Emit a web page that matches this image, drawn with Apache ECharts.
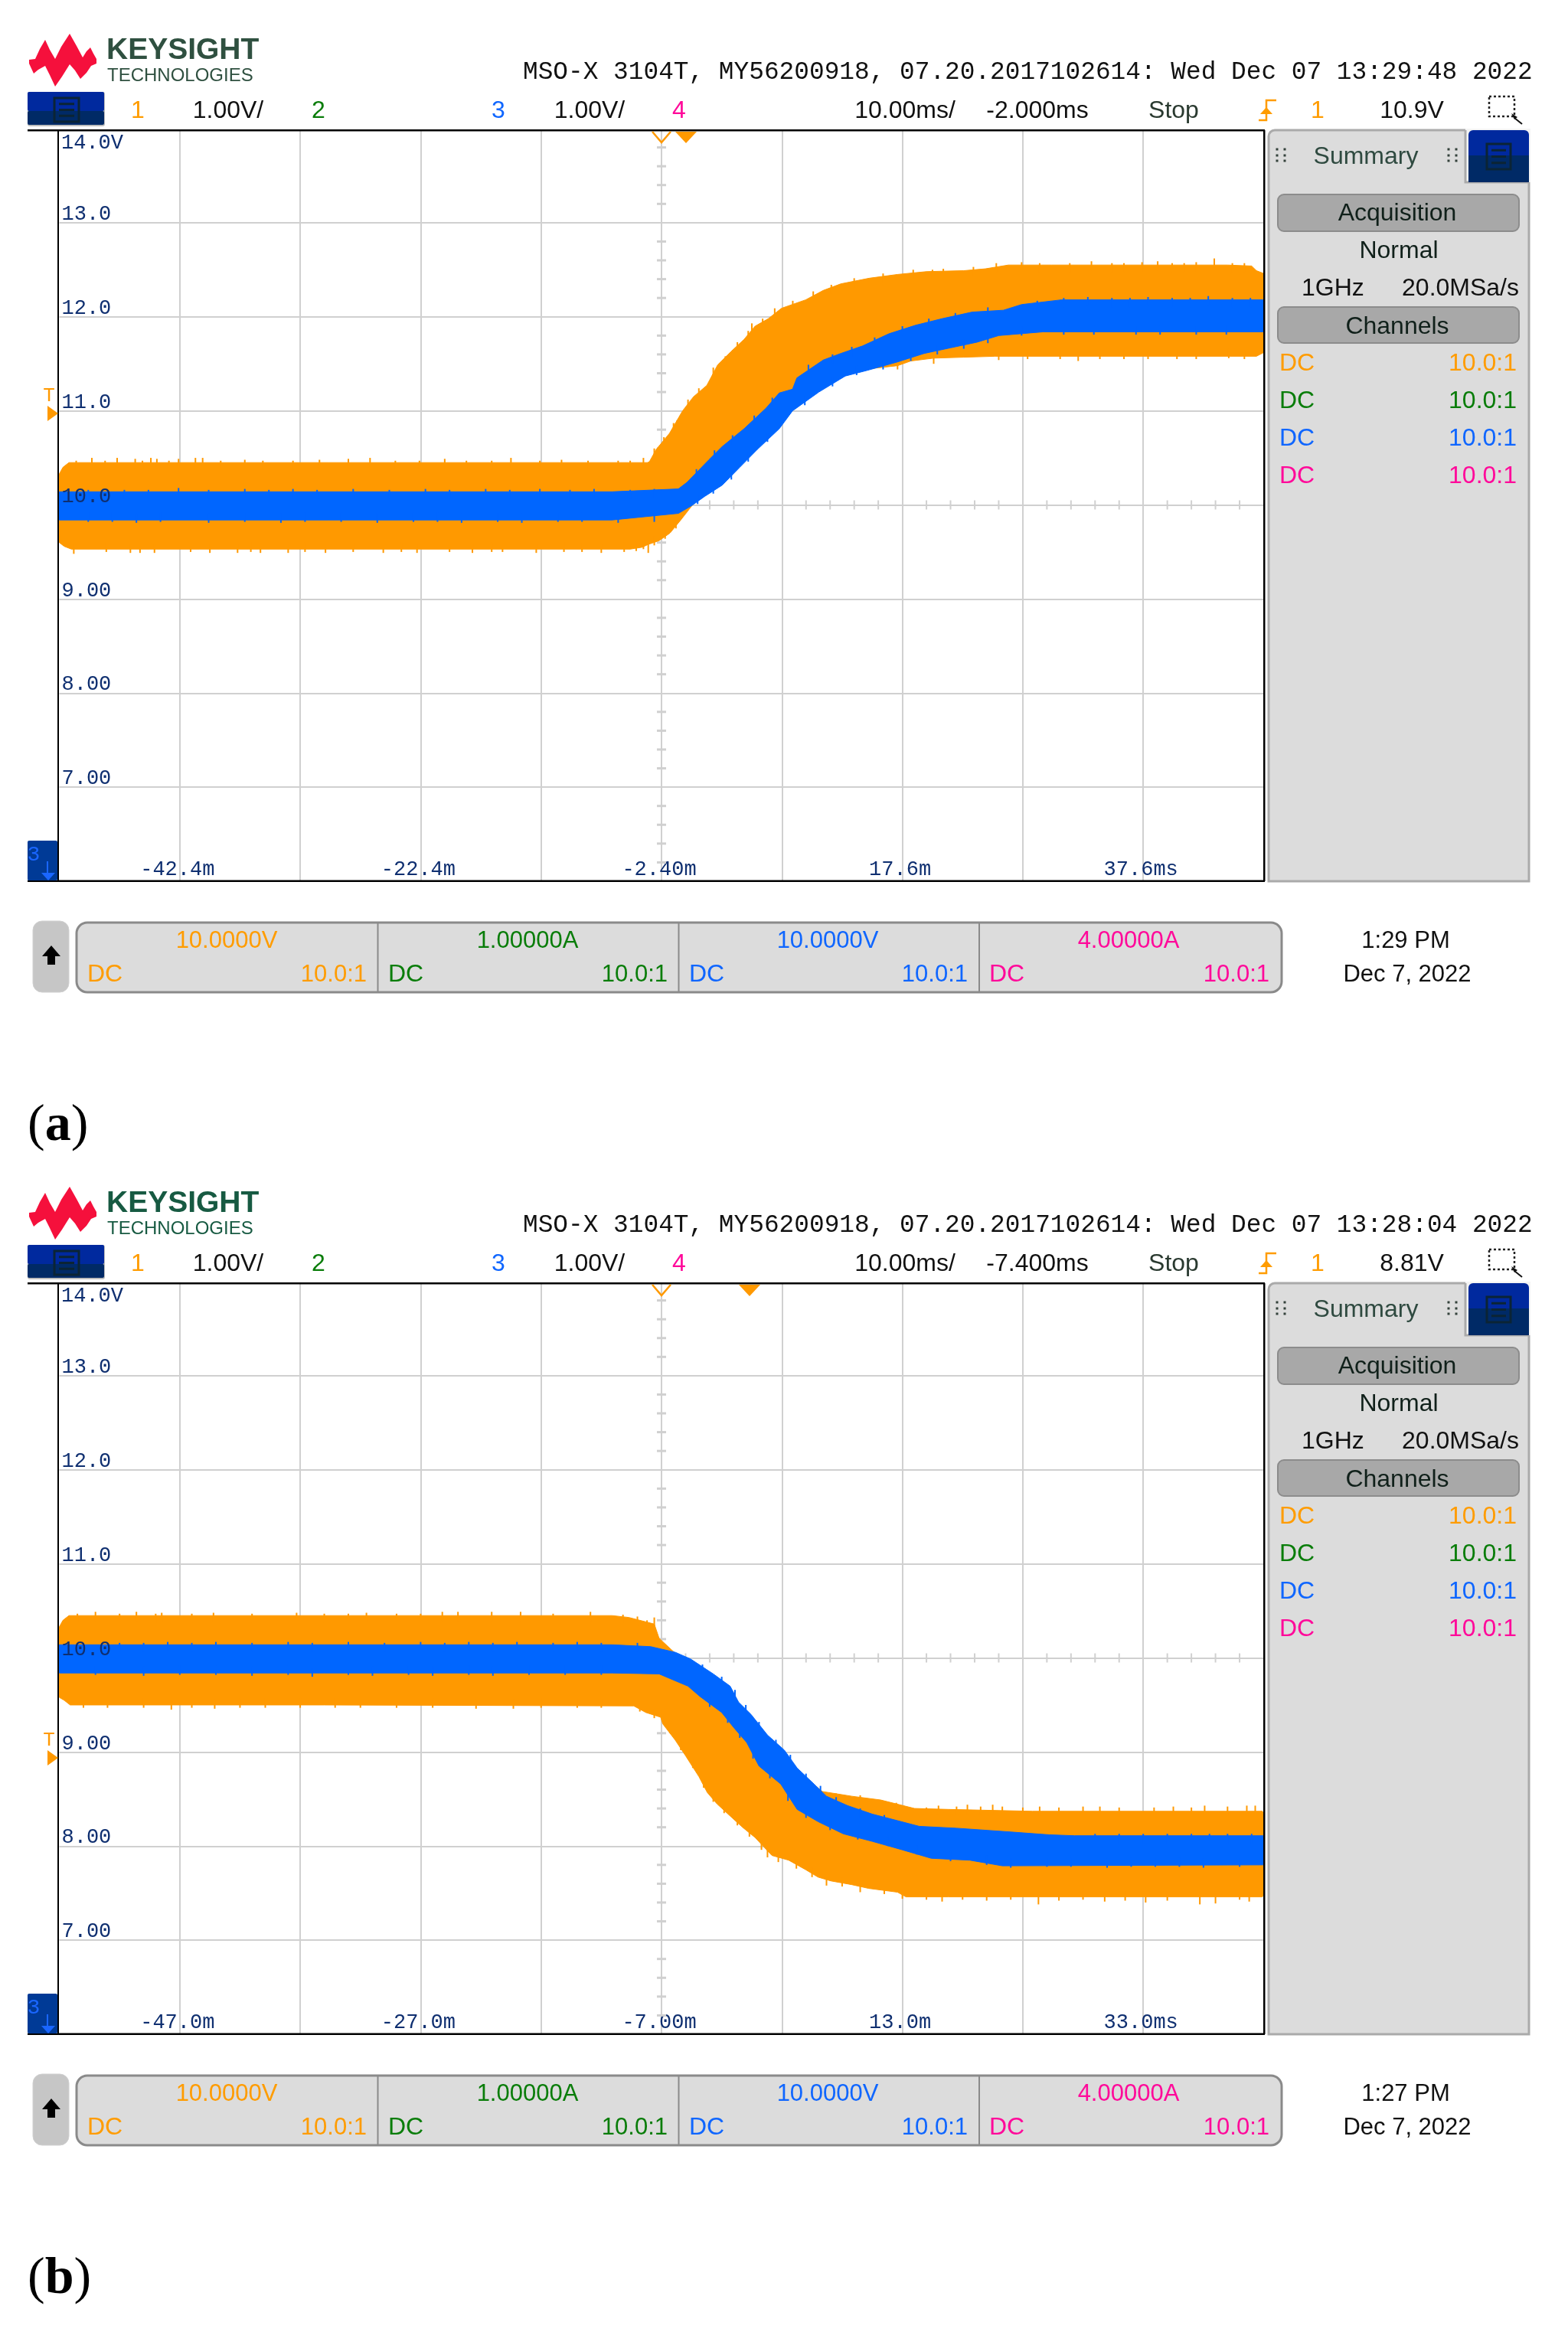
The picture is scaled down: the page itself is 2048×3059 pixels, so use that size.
<!DOCTYPE html>
<html><head><meta charset="utf-8"><style>html,body{margin:0;padding:0;background:#fff}#c{width:2048px;height:3059px}</style>
<script src="https://cdn.jsdelivr.net/npm/echarts@6/dist/echarts.min.js"></script></head>
<body><div id="c"></div><script>
// ---------- tick labels ----------
const yTickValues=[7,8,9,10,11,12,13];
const yTickLabels=['7.00','8.00','9.00','10.0','11.0','12.0','13.0'];
const aXRange=[-52.4,47.6], bXRange=[-57,43];
const aXGrid=[-42.4,-32.4,-22.4,-12.4,-2.4,7.6,17.6,27.6,37.6];
const bXGrid=[-47,-37,-27,-17,-7,3,13,23,33];
const aXTickValues=[-42.4,-22.4,-2.4,17.6,37.6];
const aXTickLabels=['-42.4m','-22.4m','-2.40m','17.6m','37.6ms'];
const bXTickValues=[-47,-27,-7,13,33];
const bXTickLabels=['-47.0m','-27.0m','-7.00m','13.0m','33.0ms'];
// ---------- panel (a): channel 1 (orange) and channel 3 (blue) envelopes, [ms, V] ----------
const aOrangeUpper=[[-52.4,10.33],[-52.1,10.4],[-51.6,10.45],[-30,10.45],[-3.57,10.45],[-3.4,10.46],[-2.84,10.59],[-1.74,10.76],[-0.65,11.0],[0.26,11.15],[1.36,11.27],[2.27,11.49],[3.37,11.63],[4.46,11.76],[5.37,11.9],[6.47,11.98],[7.56,12.09],[9.57,12.18],[11.03,12.28],[12.49,12.35],[14.86,12.41],[17.2,12.45],[19.6,12.48],[22.7,12.49],[24.5,12.51],[26.4,12.55],[30,12.55],[44.6,12.55],[46.6,12.54],[47,12.49],[47.6,12.46]];
const aOrangeLower=[[-52.4,9.6],[-52,9.56],[-51.4,9.53],[-30,9.53],[-5,9.53],[-4,9.55],[-3.5,9.58],[-2.6,9.62],[-1.7,9.7],[-0.8,9.84],[0.3,10.02],[2.6,10.3],[5.5,10.7],[8.5,11.1],[12.9,11.42],[17.2,11.48],[18.3,11.53],[20.2,11.56],[22.7,11.57],[25.3,11.58],[47,11.58],[47.6,11.62]];
const aBlueUpper=[[-52.4,10.14],[-30,10.14],[-6.5,10.14],[-1,10.17],[-0.28,10.24],[1.54,10.48],[2.64,10.62],[4.46,10.81],[6.29,11.03],[7.38,11.19],[8.48,11.23],[8.84,11.35],[11.03,11.54],[12.49,11.61],[14.3,11.69],[16.5,11.82],[18.7,11.91],[20.9,11.98],[23.4,12.05],[26,12.07],[27.5,12.13],[30.8,12.18],[47.6,12.18]];
const aBlueLower=[[-52.4,9.84],[-30,9.84],[-6.5,9.84],[-1,9.91],[0.08,9.99],[1.18,10.09],[2.64,10.21],[4.1,10.4],[5.56,10.59],[7.38,10.81],[8.48,11.0],[10.67,11.2],[12.86,11.37],[14.68,11.43],[17.2,11.52],[19.4,11.61],[21.6,11.67],[23.8,11.73],[25.6,11.8],[29.3,11.84],[47.6,11.84]];
const aOrangeSpikesUp=[[-51,10.47],[-49.7,10.5],[-48.6,10.47],[-47.6,10.5],[-46.1,10.49],[-45.5,10.47],[-44.8,10.5],[-44.3,10.49],[-43.3,10.47],[-42.5,10.49],[-41.1,10.5],[-40.5,10.5],[-39,10.47],[-37,10.48],[-35.5,10.47],[-33,10.47],[-30.8,10.48],[-28.4,10.49],[-26.6,10.5],[-24.5,10.47],[-22.5,10.47],[-20.4,10.49],[-18.6,10.47],[-16.5,10.47],[-14.9,10.5],[-12.5,10.47],[-10.7,10.48],[-8.5,10.47],[-6,10.47],[-5,10.47],[-3.9,10.5],
 [-3,10.6],[-2.2,10.72],[-1.4,10.87],[-1.1,10.9],[-0.2,11.12],[0.7,11.24],[1.9,11.46],[2.9,11.58],[3.9,11.73],[4.8,11.85],[5.1,11.93],[6,11.98],[7,12.09],[8.5,12.17],[10.2,12.27],[11.7,12.34],[13.6,12.41],[16,12.46],[18.5,12.5],[20.1,12.5],[21,12.51],[23.5,12.53],[25.4,12.57],[27.5,12.58],[29,12.57],[31.5,12.57],[33.3,12.59],[35,12.57],[36,12.57],[37.5,12.58],[38.8,12.59],[40,12.57],[41,12.57],[42,12.58],[43.5,12.62],[45,12.57],[46,12.57]];
const aOrangeSpikesDown=[[-51.2,9.48],[-48.5,9.5],[-46.5,9.49],[-45.7,9.49],[-44.5,9.49],[-41.5,9.5],[-39.9,9.49],[-37.6,9.49],[-36.5,9.5],[-35.7,9.49],[-33.4,9.49],[-32,9.5],[-30.3,9.49],[-28,9.5],[-25.5,9.49],[-24,9.5],[-22.7,9.49],[-20,9.5],[-18.1,9.49],[-16.5,9.5],[-15.6,9.5],[-12.8,9.49],[-10.5,9.5],[-9,9.5],[-7.4,9.49],[-5.5,9.5],[-4.5,9.51],[-3.9,9.53],[-3.5,9.49],[-3,9.57],[-2.1,9.64],[-1.2,9.75],
 [17.2,11.44],[20.2,11.5],[25.6,11.54],[28,11.55],[30.7,11.55],[32.2,11.53],[34,11.55],[36,11.55],[38,11.55],[40.4,11.55],[42,11.55],[44.7,11.56],[46,11.55]];
const aBlueSpikesUp=[[-50,10.16],[-47,10.16],[-45,10.16],[-42.5,10.18],[-40,10.16],[-37,10.17],[-35,10.16],[-33,10.17],[-31,10.16],[-28,10.17],[-25,10.16],[-22,10.17],[-20,10.16],[-17,10.17],[-15,10.16],[-12.5,10.17],[-10,10.16],[-8,10.17],[-5,10.16],[-3,10.17],
 [0.5,10.38],[2,10.58],[3.5,10.74],[5.3,10.95],[6.8,11.14],[9.8,11.49],[11.8,11.6],[13.4,11.68],[15.3,11.78],[17.6,11.9],[19.8,11.98],[22,12.04],[24.7,12.1],[28.8,12.17],[31,12.2],[33,12.21],[35,12.2],[36.5,12.2],[38,12.21],[40,12.2],[41.5,12.2],[43,12.22],[45,12.2],[46.5,12.2]];
const aBlueSpikesDown=[[-50,9.82],[-48,9.82],[-46,9.81],[-44,9.82],[-40,9.81],[-37,9.82],[-34,9.81],[-32,9.82],[-29,9.82],[-26,9.81],[-23,9.82],[-21,9.82],[-19,9.81],[-16,9.82],[-14,9.81],[-11,9.82],[-9,9.82],[-6,9.81],[-3,9.82],
 [0.6,10.01],[1.9,10.12],[3.4,10.27],[4.8,10.46],[6.4,10.67],[9.5,11.06],[11.8,11.26],[13.8,11.38],[16,11.44],[18.3,11.53],[20.5,11.6],[22.7,11.66],[24.7,11.72],[27.5,11.8],[31,11.81],[33.5,11.81],[37,11.81],[39,11.81],[42,11.81],[44.5,11.81]];
// ---------- panel (b) ----------
const bOrangeUpper=[[-57,10.33],[-56.7,10.4],[-56.2,10.45],[-35,10.45],[-11.1,10.45],[-9.7,10.43],[-7.6,10.36],[-7.2,10.21],[-6.2,10.09],[-5.85,10.05],[-3,9.75],[0,9.25],[3,8.95],[6.35,8.58],[8.8,8.53],[11.2,8.49],[14,8.4],[16.8,8.39],[23.8,8.37],[42.9,8.37],[43,8.33]];
const bOrangeLower=[[-57,9.58],[-56.6,9.55],[-56.1,9.5],[-35,9.5],[-9.3,9.49],[-8.3,9.42],[-7.07,9.37],[-6.9,9.3],[-5.85,9.125],[-5,8.96],[-3.9,8.74],[-3.2,8.57],[-2.4,8.45],[-1.3,8.32],[-0.27,8.2],[0.78,8.09],[2.17,7.9],[3.56,7.85],[4.96,7.75],[6,7.67],[7.05,7.63],[8.8,7.59],[10.2,7.55],[12.6,7.51],[13.3,7.46],[16.8,7.46],[42.9,7.46],[43,7.5]];
const bBlueUpper=[[-57,10.14],[-35,10.14],[-11.1,10.14],[-7.9,10.12],[-5.85,10.06],[-4.6,9.99],[-2.7,9.83],[-1.3,9.7],[-0.6,9.53],[0.43,9.4],[1.8,9.18],[3.2,9.02],[4.26,8.83],[5.66,8.66],[6.7,8.53],[8.45,8.43],[10.5,8.34],[12.6,8.27],[14.4,8.21],[17.5,8.19],[22,8.15],[25.2,8.12],[27.3,8.11],[43,8.11]];
const bBlueLower=[[-57,9.84],[-35,9.84],[-11.1,9.84],[-7.2,9.83],[-4.8,9.7],[-3.8,9.59],[-2,9.42],[-1,9.26],[0.08,9.1],[1.1,8.85],[2.9,8.66],[4.26,8.39],[6,8.26],[8.1,8.13],[10.5,8.05],[13,7.96],[15.4,7.87],[18.6,7.85],[21.3,7.79],[43,7.8]];
const bOrangeSpikesUp=[[-55.5,10.47],[-54,10.49],[-52,10.47],[-50.6,10.49],[-49,10.47],[-48.5,10.48],[-46,10.47],[-44.2,10.48],[-41,10.47],[-37.3,10.48],[-35,10.47],[-33,10.47],[-31.5,10.48],[-29,10.47],[-27,10.47],[-25.2,10.49],[-23.9,10.49],[-21.1,10.49],[-18.7,10.49],[-16,10.47],[-12.9,10.49],[-10.2,10.46],[-9,10.44],[-8.2,10.4],[-7.6,10.43],
 [7.5,8.56],[9.5,8.54],[12.5,8.46],[15,8.41],[16,8.43],[17.5,8.42],[18.4,8.44],[19.5,8.42],[20.5,8.44],[21.3,8.42],[23,8.41],[24.4,8.42],[26,8.41],[28,8.42],[29.4,8.42],[31,8.41],[33.9,8.41],[35.5,8.42],[37,8.41],[38.1,8.43],[40,8.42],[41.6,8.43],[42.3,8.43]];
const bOrangeSpikesDown=[[-55,9.47],[-53,9.47],[-50,9.47],[-47.7,9.45],[-46,9.47],[-44.1,9.46],[-42,9.47],[-39.9,9.47],[-37,9.47],[-34.1,9.47],[-32,9.47],[-29,9.47],[-26,9.47],[-22.4,9.46],[-19.3,9.46],[-17,9.47],[-14,9.47],[-12,9.47],
 [-8.8,9.43],[-7.6,9.36],[-6.3,9.2],[-5.4,9.02],[-4.4,8.83],[-3.5,8.62],[-2.7,8.47],[-1.8,8.35],[-0.7,8.22],[0.3,8.1],[1.3,7.96],[1.8,7.88],[2.7,7.83],[4.2,7.76],[5.5,7.67],[6.7,7.58],[8,7.57],[9.5,7.51],[11.5,7.49],[13,7.44],[15,7.43],[16.3,7.41],[18,7.43],[20,7.42],[22,7.43],[24.3,7.38],[26,7.42],[28,7.43],[29.8,7.41],[31.5,7.42],[33.2,7.4],[35,7.42],[37.7,7.38],[39,7.39],[41,7.43],[41.8,7.41]];
const bBlueSpikesUp=[[-55,10.16],[-52,10.16],[-50,10.16],[-48,10.17],[-46,10.16],[-44,10.17],[-41,10.16],[-38,10.17],[-36,10.16],[-33,10.17],[-30,10.16],[-27,10.17],[-25,10.16],[-23,10.17],[-21,10.16],[-19,10.17],[-16,10.16],[-14,10.17],[-12,10.16],[-9,10.16],
 [-3.6,9.93],[-2,9.8],[-0.9,9.66],[0,9.5],[1.1,9.32],[2.5,9.13],[3.7,8.97],[5,8.77],[6.2,8.64],[7.5,8.52],[9.5,8.4],[11.5,8.33],[29,8.13],[31,8.13],[33,8.13],[35,8.13],[37,8.13],[38.5,8.13],[40,8.13],[42,8.13]];
const bBlueSpikesDown=[[-54,9.82],[-50,9.81],[-47,9.82],[-44,9.82],[-41,9.81],[-38,9.82],[-36,9.8],[-33,9.82],[-31,9.81],[-28,9.82],[-26,9.81],[-23,9.82],[-21,9.81],[-18,9.82],[-15,9.82],[-12,9.82],
 [-3,9.48],[-1.5,9.31],[-0.5,9.15],[0.6,8.93],[2,8.72],[3.5,8.48],[5,8.3],[7,8.17],[9.3,8.07],[11.8,8.0],[14.2,7.91],[17,7.84],[20,7.8],[22,7.77],[25,7.78],[27,7.78],[30,7.77],[32,7.78],[34,7.78],[36,7.78],[38,7.77],[41,7.78]];
// ---------- screen texts ----------
const aTexts={stamp:'13:29:48',delay:'-2.000ms',trig:'10.9V',clock:'1:29 PM',tag:'a',trigY:540,marker:896};
const bTexts={stamp:'13:28:04',delay:'-7.400ms',trig:'8.81V',clock:'1:27 PM',tag:'b',trigY:2296-1506,marker:979};
const channelColors=['#ff9c00','#0a7d0a','#0f66ff','#ff0a9a'];
const channelOffsets=['10.0000V','1.00000A','10.0000V','4.00000A'];

const SANS='"Liberation Sans"',MONO='"Liberation Mono"',SERIF='"Liberation Serif"';
const ORANGE='#ff9900',BLUE='#0066ff',GRID='#d0d0d0',NAVY='#0f2f70';
const G=[];
function T(x,y,text,size,fill,align,fam,weight){G.push({type:'text',z:30,silent:true,x:x,y:y+2,style:{text:text,fill:fill,textAlign:align||'left',textVerticalAlign:'middle',font:(weight?weight+' ':'')+size+'px '+(fam||SANS)}});}
function R(x,y,w,h,fill,stroke,lw,r,z){G.push({type:'rect',z:z||20,silent:true,shape:{x:x,y:y,width:w,height:h,r:r||0},style:{fill:fill||'none',stroke:stroke||null,lineWidth:lw||0}});}
function L(pts,stroke,lw,dash,z){G.push({type:'polyline',z:z||30,silent:true,shape:{points:pts},style:{stroke:stroke,lineWidth:lw,fill:'none',lineDash:dash||null}});}
function P(pts,fill,stroke,lw,z){G.push({type:'polygon',z:z||30,silent:true,shape:{points:pts},style:{fill:fill,stroke:stroke||null,lineWidth:lw||0}});}
function menuIcon(x,y,w,h){R(x,y,w,h,'none','#0b2435',3,0,26);[.25,.5,.75].forEach(f=>R(x+6,y+h*f-1.5,w-12,3,'#0b2435',null,0,0,26));}

function chrome(d,t,greenLogo){
  // logo
  P([[38,78],[46,77],[52,64],[59,52],[65,65],[72,77],[80,61],[91,44],[100,60],[108,75],[113,67],[118,62],[122,70],[126,77],[126,83],[119,86],[113,95],[105,103],[98,92],[91,84],[81,100],[72,113],[65,98],[59,86],[50,91],[44,96],[38,83]].map(p=>[p[0],p[1]+d]),'#f5103c');
  const logo=greenLogo?'#175a42':'#2f5040';
  T(139,64+d,'KEYSIGHT',39,logo,'left',SANS,'bold');
  T(140,97+d,'TECHNOLOGIES',24,logo);
  // header
  T(683,92+d,'MSO-X 3104T, MY56200918, 07.20.2017102614: Wed Dec 07 '+t.stamp+' 2022',32.8,'#111','left',MONO);
  R(36,120+d,101,45,'#bdbdbd',null,0,3,24); R(36,120+d,100,25,'#00299e',null,0,2,25); R(36,145+d,100,18,'#002a66',null,0,2,25); menuIcon(71,128+d,32,31);
  T(180,143+d,'1',32,channelColors[0],'center'); T(298,143+d,'1.00V/',32,'#111','center');
  T(416,143+d,'2',32,channelColors[1],'center');
  T(651,143+d,'3',32,channelColors[2],'center'); T(770,143+d,'1.00V/',32,'#111','center');
  T(887,143+d,'4',32,channelColors[3],'center');
  T(1182,143+d,'10.00ms/',32,'#111','center'); T(1355,143+d,t.delay,32,'#111','center');
  T(1533,143+d,'Stop',32,'#2a3a30','center');
  L([[1644,157+d],[1654,157+d],[1654,131+d],[1667,131+d]],channelColors[0],2.5);
  P([[1654,140+d],[1662,149+d],[1646,149+d]],channelColors[0]);
  T(1721,143+d,'1',32,channelColors[0],'center'); T(1844,143+d,t.trig,32,'#111','center');
  R(1945,126+d,33,26,'none','#222',2.5,0,30); G[G.length-1].style.lineDash=[3,3];
  P([[1974,148+d],[1982,153+d],[1978,156+d]],'#111'); L([[1978,154+d],[1988,162+d]],'#111',2);
  // right panel
  R(1657,170+d,340,981,'#dcdcdc','#aaaaaa',3,[8,0,0,0],15);
  R(1914,168+d,85,70,'#f4f4f4',null,0,0,16); L([[1914,170+d],[1914,238+d],[1997,238+d]],'#aaaaaa',3,null,17);
  R(1918,170+d,79,34,'#00299e',null,0,[6,6,0,0],18); R(1918,203+d,79,35,'#002a66',null,0,0,18); menuIcon(1942,188+d,31,33);
  [1668,1678,1892,1902].forEach(x=>[195,203,210].forEach(y=>R(x-1.5,y-1.5+d,3,3,'#33413a',null,0,0,18)));
  T(1784,203+d,'Summary',32,'#2f4a40','center');
  R(1669,254+d,315,48,'#a8a8a8','#8c8c8c',2,8,18); T(1825,277+d,'Acquisition',32,'#10201a','center');
  T(1827,326+d,'Normal',32,'#10201a','center');
  T(1700,375+d,'1GHz',32,'#111','left'); T(1984,375+d,'20.0MSa/s',32,'#111','right');
  R(1669,401+d,315,47,'#a8a8a8','#8c8c8c',2,8,18); T(1825,425+d,'Channels',32,'#10201a','center');
  [473,522,571,620].forEach((y,i)=>{T(1671,y+d,'DC',32,channelColors[i]);T(1981,y+d,'10.0:1',32,channelColors[i],'right');});
  // plot frame, drawn over the grid lines
  R(36,160+d,1616,10,'#fff',null,0,0,19);
  R(36,169+d,1616,2.5,'#000',null,0,0,22); R(36,1149.5+d,1616,2.5,'#000',null,0,0,22);
  R(75,170+d,2,981,'#000',null,0,0,22); R(1650,170+d,2.5,981,'#000',null,0,0,22);
  // markers on the frame
  L([[852,172+d],[864,186+d],[876,172+d]],ORANGE,2.5);
  P([[t.marker-14,172+d],[t.marker+14,172+d],[t.marker,187+d]],ORANGE);
  T(64,515+d+(t.trigY-540),'T',26,ORANGE,'center',MONO);
  P([[62,t.trigY-10+d],[76,t.trigY+d],[62,t.trigY+10+d]],ORANGE);
  R(36,1098+d,39,52,'#003a96',null,0,2,23);
  T(44,1115+d,'3',28,'#1a66ff','center',MONO); L([[62,1125+d],[62,1143+d]],'#1a66ff',2);
  P([[54,1140+d],[72,1140+d],[63,1150+d]],'#1a66ff');
  T(80,185+d,'14.0V',27,NAVY,'left',MONO);
  // bottom strip
  R(43,1203+d,47,93,'#c6c6c6','#d0d0d0',1,12,18);
  P([[67,1235+d],[79,1249+d],[72,1249+d],[72,1260+d],[62,1260+d],[62,1249+d],[55,1249+d]],'#000');
  R(100,1205+d,1574,91,'#dcdcdc','#8a8a8a',3,14,18);
  [493.5,886.5,1279].forEach(x=>R(x-1,1205+d,2,91,'#8a8a8a',null,0,0,19));
  [296,689,1081,1474].forEach((x,i)=>T(x,1227+d,channelOffsets[i],31,channelColors[i],'center'));
  [114,507,900,1292].forEach((x,i)=>T(x,1271+d,'DC',32,channelColors[i]));
  [479,872,1264,1658].forEach((x,i)=>T(x,1271+d,'10.0:1',31,channelColors[i],'right'));
  T(1836,1227+d,t.clock,31,'#111','center'); T(1838,1271+d,'Dec 7, 2022',31,'#111','center');
  G.push({type:'text',z:30,silent:true,x:36,y:1471+d,style:{text:'{p|(}{b|'+t.tag+'}{p|)}',textVerticalAlign:'middle',rich:{p:{font:'68px '+SERIF,fill:'#000'},b:{font:'bold 68px '+SERIF,fill:'#000'}}}});
}
chrome(0,aTexts,false); chrome(1506,bTexts,true);

function band(name,upper,lower,color,g,z){
  const pts=upper.concat(lower.slice().reverse());
  return {type:'custom',name:name,xAxisIndex:g,yAxisIndex:g*2,z:z,clip:true,silent:true,animation:false,encode:{x:0,y:1},data:pts,
    renderItem:(p,api)=>{ if(p.dataIndex!==0) return null; return {type:'polygon',shape:{points:pts.map(q=>api.coord(q))},style:{fill:color,stroke:color,lineWidth:1}}; }};
}
function spikes(name,list,dir,color,g,z){
  return {type:'custom',name:name,xAxisIndex:g,yAxisIndex:g*2,z:z,clip:true,silent:true,animation:false,encode:{x:0,y:1},data:list,
    renderItem:(p,api)=>{ const a=api.coord([api.value(0),api.value(1)]); return {type:'rect',shape:{x:a[0]-1,y:dir>0?a[1]:a[1]-12,width:2,height:12},style:{fill:color}}; }};
}
const yCenter=[];for(let i=31;i<70;i++){if(i%5)yCenter.push(i/5);}
function centerTicks(g,xc,ticksX){
  return [{type:'custom',name:'vticks'+g,xAxisIndex:g,yAxisIndex:g*2,z:1,silent:true,animation:false,encode:{y:0},data:yCenter.map(v=>[xc,v]),
    renderItem:(p,api)=>{const a=api.coord([api.value(0),api.value(1)]);return {type:'rect',shape:{x:a[0]-6,y:a[1]-1.5,width:12,height:3},style:{fill:GRID}};}},
   {type:'custom',name:'hticks'+g,xAxisIndex:g,yAxisIndex:g*2,z:1,silent:true,animation:false,encode:{x:0,y:1},data:ticksX.map(v=>[v,10]),
    renderItem:(p,api)=>{const a=api.coord([api.value(0),api.value(1)]);return {type:'rect',shape:{x:a[0]-1,y:a[1]-6,width:2,height:12},style:{fill:GRID}};}}];
}
const aHTicks=[],bHTicks=[];for(let i=1;i<50;i++){if(i%5){aHTicks.push(-52.4+i*2);bHTicks.push(-57+i*2);}}
function xAx(g,range,gridV,vals,labs){return {gridIndex:g,type:'value',min:range[0],max:range[1],axisLine:{show:false},
  axisTick:{show:false,customValues:gridV},splitLine:{show:true,lineStyle:{color:GRID,width:2}},
  axisLabel:{customValues:vals,inside:true,margin:2,verticalAlign:'bottom',padding:[0,6,0,0],fontFamily:'Liberation Mono',fontSize:27,color:NAVY,formatter:v=>labs[vals.indexOf(v)]||''}};}
function yAxes(g){return [
  {gridIndex:g,type:'value',min:6,max:14,interval:1,axisLine:{show:false},axisTick:{show:false},axisLabel:{show:false},splitLine:{show:true,lineStyle:{color:GRID,width:2}}},
  {gridIndex:g,type:'value',min:6,max:14,interval:1,z:10,position:'left',axisLine:{show:false},axisTick:{show:false},splitLine:{show:false},
   axisLabel:{customValues:yTickValues,inside:true,margin:3,align:'left',verticalAlign:'bottom',lineHeight:22,fontFamily:'Liberation Mono',fontSize:27,color:NAVY,formatter:v=>yTickLabels[yTickValues.indexOf(v)]||''}}];}
const series=[
  ...centerTicks(0,-2.4,aHTicks),...centerTicks(1,-7,bHTicks),
  band('a ch1',aOrangeUpper,aOrangeLower,ORANGE,0,3),
  spikes('a ch1 up',aOrangeSpikesUp,1,ORANGE,0,3),spikes('a ch1 down',aOrangeSpikesDown,-1,ORANGE,0,3),
  band('a ch3',aBlueUpper,aBlueLower,BLUE,0,4),
  spikes('a ch3 up',aBlueSpikesUp,1,BLUE,0,4),spikes('a ch3 down',aBlueSpikesDown,-1,BLUE,0,4),
  band('b ch1',bOrangeUpper,bOrangeLower,ORANGE,1,3),
  spikes('b ch1 up',bOrangeSpikesUp,1,ORANGE,1,3),spikes('b ch1 down',bOrangeSpikesDown,-1,ORANGE,1,3),
  band('b ch3',bBlueUpper,bBlueLower,BLUE,1,4),
  spikes('b ch3 up',bBlueSpikesUp,1,BLUE,1,4),spikes('b ch3 down',bBlueSpikesDown,-1,BLUE,1,4)
];
const chart=echarts.init(document.getElementById('c'),null,{renderer:'canvas'});
chart.setOption({animation:false,backgroundColor:'#fff',
  grid:[{left:77.5,top:168,width:1573,height:983},{left:77.5,top:1674,width:1573,height:983}],
  xAxis:[xAx(0,aXRange,aXGrid,aXTickValues,aXTickLabels),xAx(1,bXRange,bXGrid,bXTickValues,bXTickLabels)],
  yAxis:[...yAxes(0),...yAxes(1)],
  series:series,graphic:{elements:G}});
</script></body></html>
